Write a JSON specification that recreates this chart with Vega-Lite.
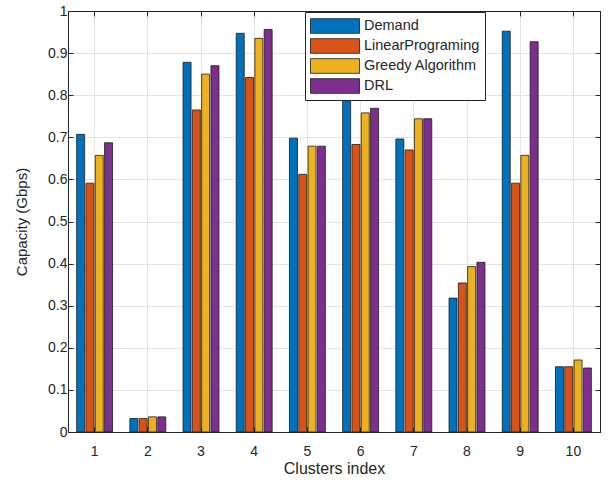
{
  "$schema": "https://vega.github.io/schema/vega-lite/v6.json",
  "width": 532,
  "height": 421,
  "autosize": {"type": "none"},
  "padding": {"left": 68, "top": 11, "right": 13, "bottom": 55},
  "background": "white",
  "config": {
    "font": "Liberation Sans",
    "view": {"stroke": "#262626", "strokeWidth": 1},
    "axis": {
      "domainColor": "#262626",
      "tickColor": "#262626",
      "labelColor": "#262626",
      "titleColor": "#262626",
      "gridColor": "#e3e3e3",
      "gridWidth": 1,
      "labelFont": "Liberation Sans",
      "titleFont": "Liberation Sans",
      "titleFontWeight": "normal"
    }
  },
  "data": {
    "values": [
      {"cluster": "1", "method": "Demand", "value": 0.707},
      {"cluster": "1", "method": "LinearPrograming", "value": 0.591},
      {"cluster": "1", "method": "Greedy Algorithm", "value": 0.657},
      {"cluster": "1", "method": "DRL", "value": 0.687},
      {"cluster": "2", "method": "Demand", "value": 0.032},
      {"cluster": "2", "method": "LinearPrograming", "value": 0.032},
      {"cluster": "2", "method": "Greedy Algorithm", "value": 0.036},
      {"cluster": "2", "method": "DRL", "value": 0.036},
      {"cluster": "3", "method": "Demand", "value": 0.878},
      {"cluster": "3", "method": "LinearPrograming", "value": 0.765},
      {"cluster": "3", "method": "Greedy Algorithm", "value": 0.85},
      {"cluster": "3", "method": "DRL", "value": 0.87},
      {"cluster": "4", "method": "Demand", "value": 0.947},
      {"cluster": "4", "method": "LinearPrograming", "value": 0.842},
      {"cluster": "4", "method": "Greedy Algorithm", "value": 0.935},
      {"cluster": "4", "method": "DRL", "value": 0.956},
      {"cluster": "5", "method": "Demand", "value": 0.698},
      {"cluster": "5", "method": "LinearPrograming", "value": 0.612},
      {"cluster": "5", "method": "Greedy Algorithm", "value": 0.679},
      {"cluster": "5", "method": "DRL", "value": 0.679},
      {"cluster": "6", "method": "Demand", "value": 0.86},
      {"cluster": "6", "method": "LinearPrograming", "value": 0.683},
      {"cluster": "6", "method": "Greedy Algorithm", "value": 0.758},
      {"cluster": "6", "method": "DRL", "value": 0.769},
      {"cluster": "7", "method": "Demand", "value": 0.696},
      {"cluster": "7", "method": "LinearPrograming", "value": 0.67},
      {"cluster": "7", "method": "Greedy Algorithm", "value": 0.744},
      {"cluster": "7", "method": "DRL", "value": 0.744},
      {"cluster": "8", "method": "Demand", "value": 0.318},
      {"cluster": "8", "method": "LinearPrograming", "value": 0.354},
      {"cluster": "8", "method": "Greedy Algorithm", "value": 0.393},
      {"cluster": "8", "method": "DRL", "value": 0.403},
      {"cluster": "9", "method": "Demand", "value": 0.952},
      {"cluster": "9", "method": "LinearPrograming", "value": 0.591},
      {"cluster": "9", "method": "Greedy Algorithm", "value": 0.657},
      {"cluster": "9", "method": "DRL", "value": 0.927},
      {"cluster": "10", "method": "Demand", "value": 0.155},
      {"cluster": "10", "method": "LinearPrograming", "value": 0.155},
      {"cluster": "10", "method": "Greedy Algorithm", "value": 0.171},
      {"cluster": "10", "method": "DRL", "value": 0.152}
    ]
  },
  "layer": [
    {
      "mark": {"type": "bar", "stroke": "#1a1a1a", "strokeWidth": 0.8},
      "encoding": {
        "x": {
          "field": "cluster",
          "type": "ordinal",
          "sort": ["1","2","3","4","5","6","7","8","9","10"],
          "scale": {"paddingInner": 0.325, "paddingOuter": 0.1625},
          "axis": {
            "title": "Clusters index",
            "titleFontSize": 16,
            "titlePadding": 2,
            "labelAngle": 0,
            "labelFontSize": 14,
            "labelPadding": 17,
            "tickSize": -5,
            "grid": true,
            "bandPosition": 0.5,
            "domain": true
          }
        },
        "xOffset": {
          "field": "method",
          "type": "nominal",
          "sort": ["Demand", "LinearPrograming", "Greedy Algorithm", "DRL"],
          "scale": {"paddingInner": 0.14, "paddingOuter": 0}
        },
        "y": {
          "field": "value",
          "type": "quantitative",
          "scale": {"domain": [0, 1], "nice": false},
          "axis": {
            "title": "Capacity (Gbps)",
            "titleFontSize": 15,
            "titlePadding": 18,
            "labelFontSize": 14,
            "labelPadding": 6,
            "tickSize": -5,
            "values": [0, 0.1, 0.2, 0.3, 0.4, 0.5, 0.6, 0.7, 0.8, 0.9, 1],
            "format": ".1~f",
            "grid": true
          }
        },
        "color": {
          "field": "method",
          "type": "nominal",
          "sort": ["Demand", "LinearPrograming", "Greedy Algorithm", "DRL"],
          "scale": {
            "domain": ["Demand", "LinearPrograming", "Greedy Algorithm", "DRL"],
            "range": ["#0072BD", "#D95319", "#EDB120", "#7E2F8E"]
          },
          "legend": {
            "title": null,
            "orient": "none",
            "legendX": 237,
            "legendY": 1,
            "fillColor": "white",
            "strokeColor": "#262626",
            "padding": 5,
            "symbolType": "M-3,-0.9H3V0.9H-3Z",
            "symbolSize": 267,
            "symbolOffset": 16,
            "symbolStrokeColor": "#1a1a1a",
            "symbolStrokeWidth": 0.8,
            "symbolOpacity": 1,
            "labelFontSize": 14.5,
            "labelFont": "Liberation Sans",
            "labelColor": "#262626",
            "labelOffset": 20,
            "rowPadding": 2
          }
        }
      }
    },
    {
      "mark": {"type": "bar", "opacity": 0},
      "encoding": {
        "x": {
          "field": "cluster",
          "type": "ordinal",
          "sort": ["1","2","3","4","5","6","7","8","9","10"],
          "axis": {"orient": "top", "title": null, "labels": false, "tickSize": -5, "bandPosition": 0.5, "grid": false}
        },
        "xOffset": {
          "field": "method",
          "type": "nominal",
          "sort": ["Demand", "LinearPrograming", "Greedy Algorithm", "DRL"]
        },
        "y": {
          "field": "value",
          "type": "quantitative",
          "axis": {"orient": "right", "title": null, "labels": false, "tickSize": -5, "values": [0, 0.1, 0.2, 0.3, 0.4, 0.5, 0.6, 0.7, 0.8, 0.9, 1], "grid": false}
        }
      }
    }
  ],
  "resolve": {"axis": {"x": "independent", "y": "independent"}}
}
